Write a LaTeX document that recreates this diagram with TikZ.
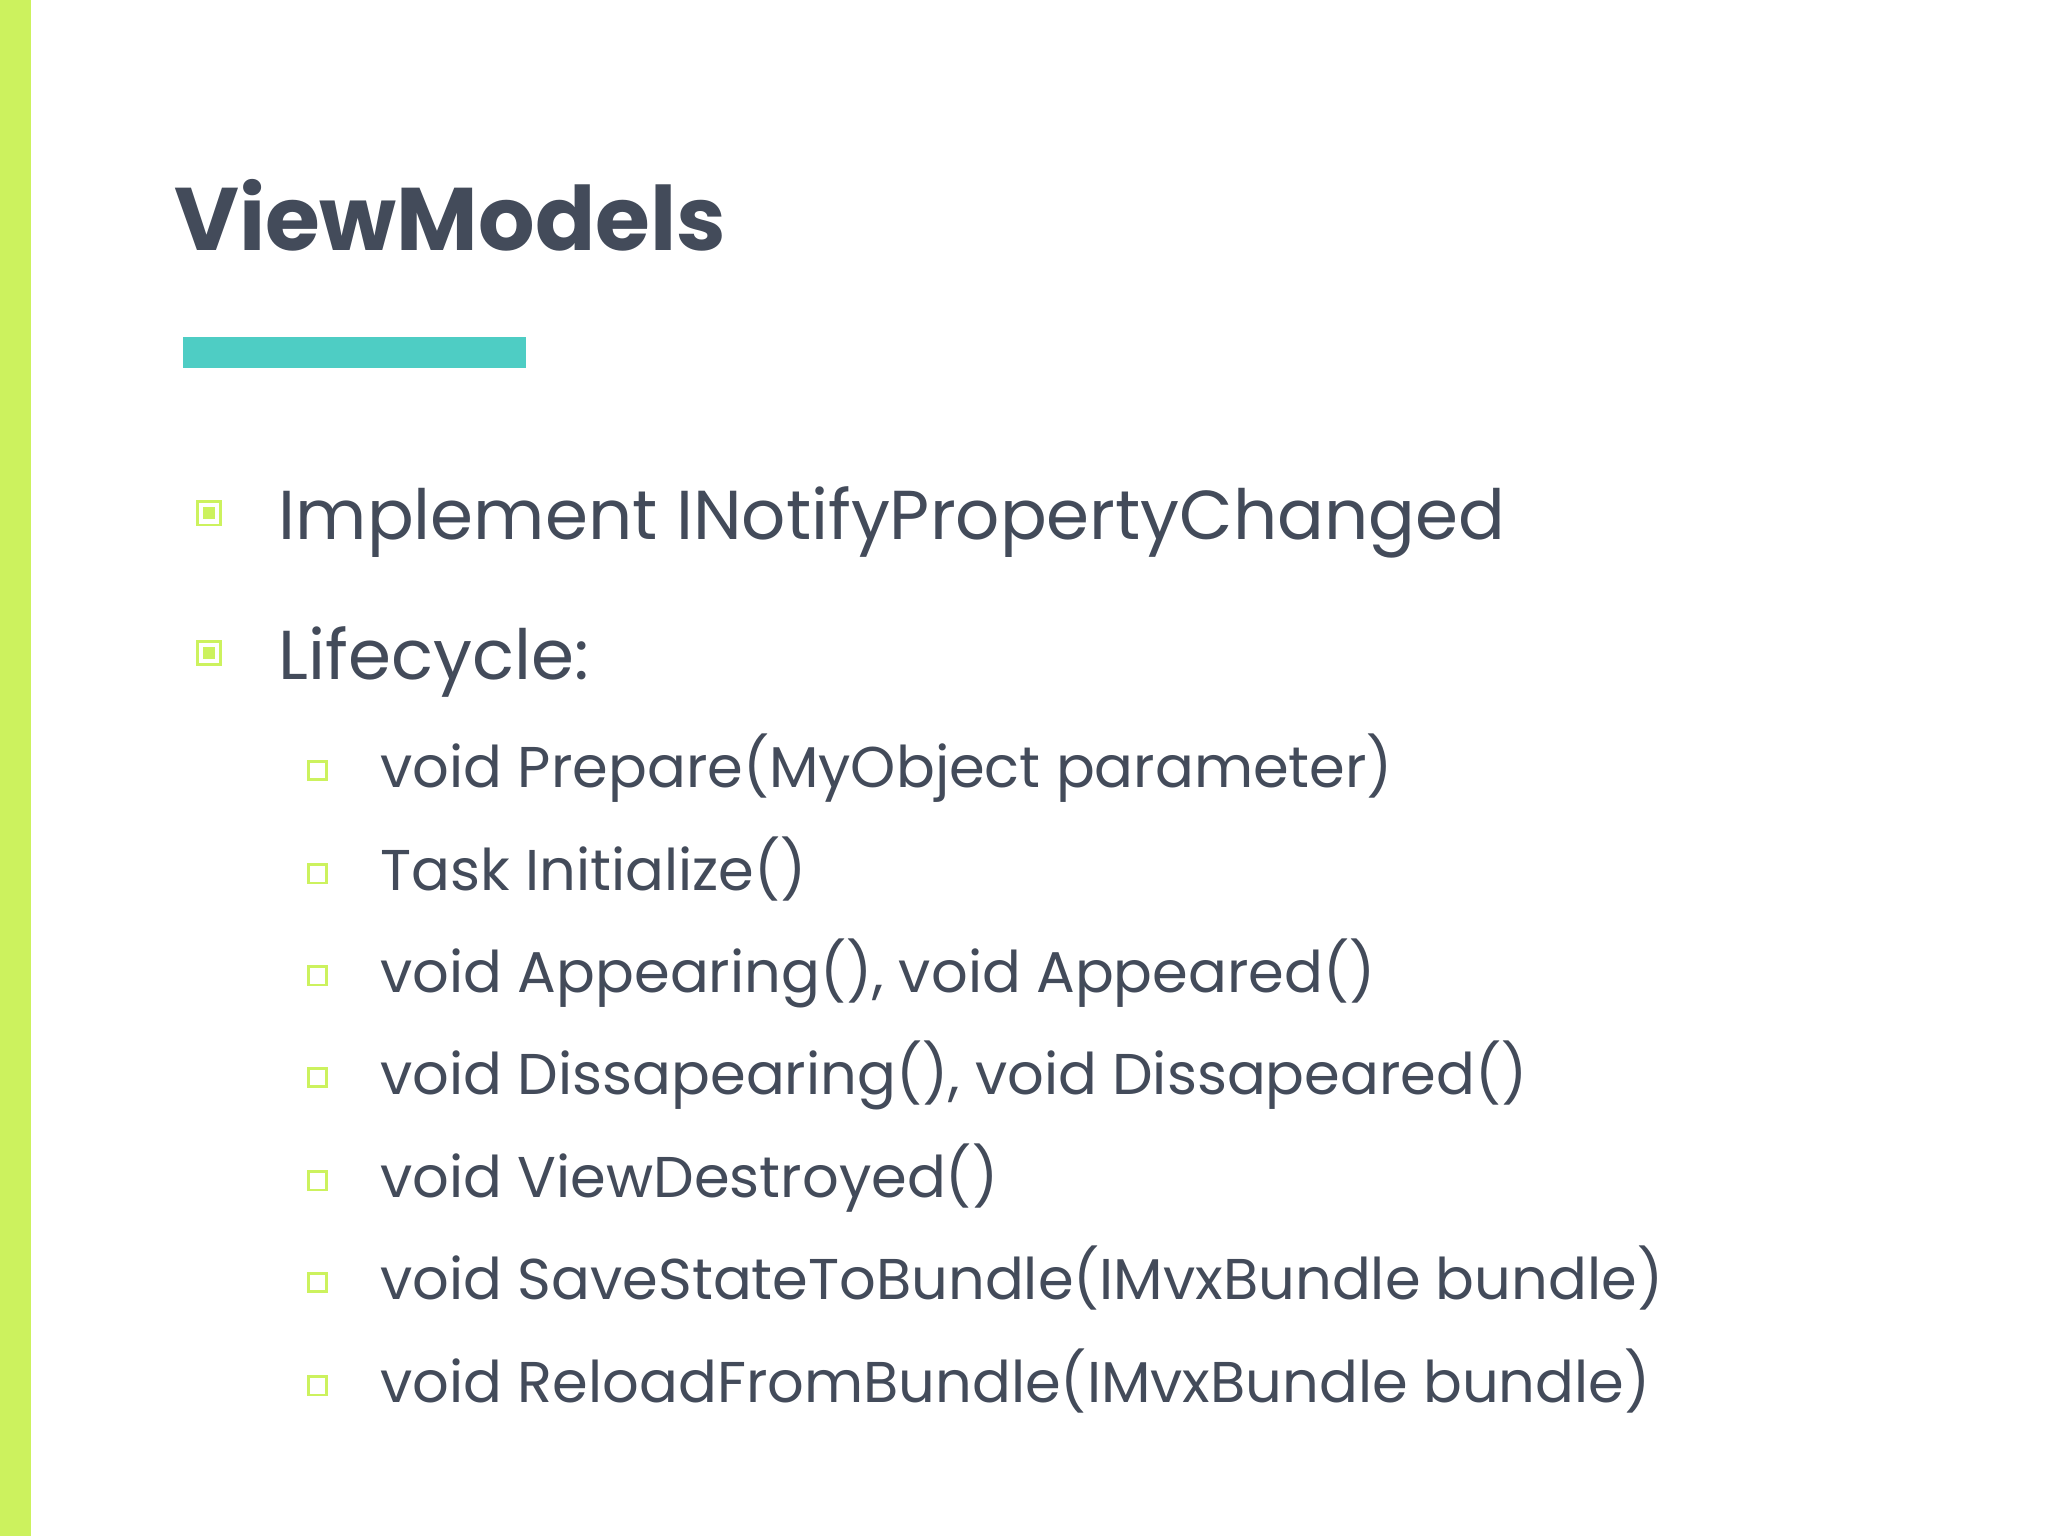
\documentclass[tikz,border=0pt]{standalone}
\usepackage{fontspec}
\setmainfont{Poppins}
\definecolor{lime}{HTML}{CCF25E}
\definecolor{teal}{HTML}{4ECDC4}
\definecolor{ink}{HTML}{434B5A}
\begin{document}
\begin{tikzpicture}[x=0.5pt,y=-0.5pt,
  main/.style={anchor=base west,inner sep=0,text=ink,font=\fontsize{26.5}{30}\selectfont},
  sub/.style={anchor=base west,inner sep=0,text=ink,font=\fontsize{22}{26}\selectfont},
  bout/.style={draw=lime,line width=1.1pt,minimum size=9pt,inner sep=0},
  bsub/.style={draw=lime,line width=1pt,minimum size=7pt,inner sep=0}]
\useasboundingbox (0,0) rectangle (1568,1176);
\fill[white] (0,0) rectangle (1568,1176);
\fill[lime] (0,0) rectangle (24,1176);
\node[anchor=base west,inner sep=0,text=ink,font=\fontsize{34}{40}\selectfont\bfseries] (title) at (133,192) {ViewModels};
\fill[teal] (140,258) rectangle (403,282);
\node[bout] (b1) at (160,393) {}; \fill[lime] (155.5,388.5) rectangle (164.5,397.5);
\node[bout] (b2) at (160,500) {}; \fill[lime] (155.5,495.5) rectangle (164.5,504.5);
\node[main] (t1) at (213,413) {Implement INotifyPropertyChanged};
\node[main] (t2) at (213,520) {Lifecycle:};
\foreach \y/\t [count=\i] in {603/{void Prepare(MyObject parameter)},682/{Task Initialize()},760/{void Appearing(), void Appeared()},838/{void Dissapearing(), void Dissapeared()},917/{void ViewDestroyed()},995/{void SaveStateToBundle(IMvxBundle bundle)},1074/{void ReloadFromBundle(IMvxBundle bundle)}}{
  \node[bsub] (s\i) at (243,\y-13) {};
  \node[sub] (u\i) at (291,\y) {\t};
}
\end{tikzpicture}
\end{document}
